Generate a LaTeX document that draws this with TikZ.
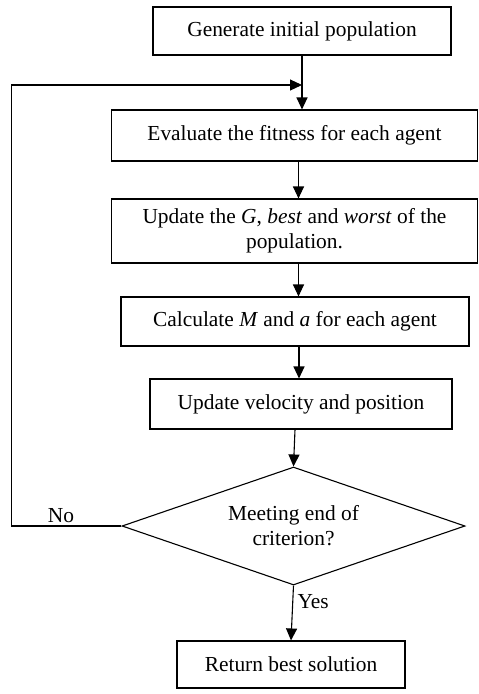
\documentclass[tikz,border=0pt]{standalone}
\usepackage{fontspec}
\setmainfont{Liberation Serif}
\usetikzlibrary{arrows.meta,positioning,shapes.geometric}

\begin{document}
\begin{tikzpicture}[x=1pt,y=-1pt,
      font=\fontsize{21.4}{25}\selectfont,line width=1.1pt,
      box/.style={draw,rectangle,align=center,inner sep=0pt},
      test/.style={draw,diamond,align=center,inner sep=0pt,aspect=2.9,
                   minimum width=343pt,minimum height=118pt},
      arr/.style={-{Triangle[length=12pt,width=11pt]}}]
    \useasboundingbox (0,0) rectangle (479,694);
    \node[box,minimum width=298pt,minimum height=48pt] (init) at (302,31) {Generate initial population};
    \node[box,minimum width=366pt,minimum height=51pt] (fit) at (294.5,135.5) {Evaluate the fitness for each agent};
    \node[box,minimum width=366pt,minimum height=64pt] (upd) at (294.5,231) {Update the \textit{G}, \textit{best} and \textit{worst} of the\\population.};
    \node[box,minimum width=348pt,minimum height=49pt] (calc) at (295,321.5) {Calculate \textit{M} and \textit{a} for each agent};
    \node[box,minimum width=302pt,minimum height=50pt] (vel) at (301,404) {Update velocity and position};
    \node[test] (stop) at (293.5,526) {Meeting end of\\criterion?};
    \node[box,minimum width=228pt,minimum height=47pt] (ret) at (291,664.5) {Return best solution};
    \coordinate (join) at (init.south |- 0,85);
    \draw[arr] (init.south)--(init.south |- fit.north);
    \draw[arr] ([xshift=4pt]fit.south)--([xshift=4pt]fit.south |- upd.north);
    \draw[arr] ([xshift=4pt]upd.south)--([xshift=4pt]upd.south |- calc.north);
    \draw[arr] ([xshift=4pt]calc.south)--([xshift=4pt]calc.south |- vel.north);
    \draw[arr] ([xshift=-6pt]vel.south)--(stop.north);
    \draw[arr] (stop.south)--(ret.north) node[pos=0.3,right=1pt] (yes) {Yes};
    \draw[arr] (stop.west)--++(-110,0) node[pos=0.55,above=-1pt] (no) {No} |-(join);
  \end{tikzpicture}
\end{document}
